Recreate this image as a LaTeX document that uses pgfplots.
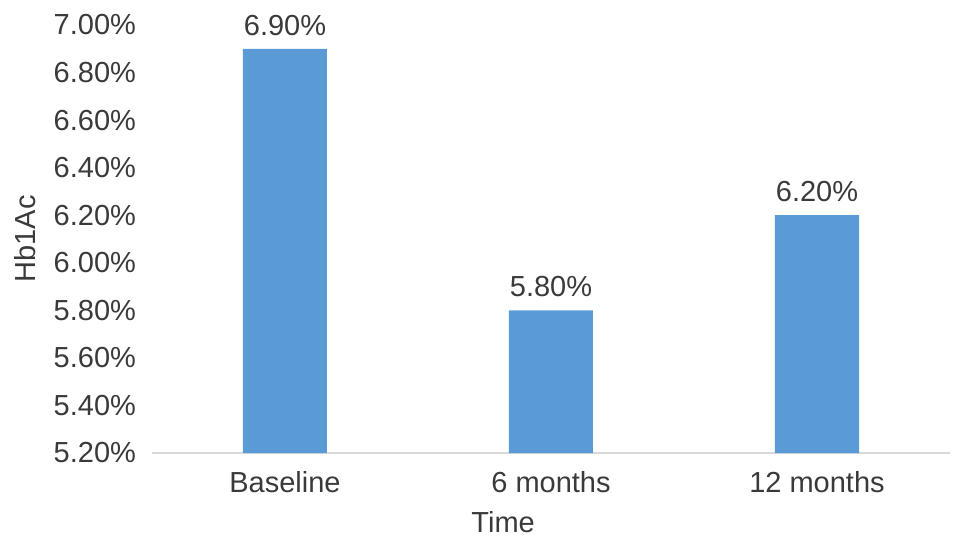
\documentclass[border=0pt]{standalone}
\usepackage{pgfplots}
\pgfplotsset{compat=1.18}
\usepackage{fontspec}
\setmainfont{Liberation Sans}
\definecolor{barblue}{HTML}{5B9BD5}
\definecolor{txt}{HTML}{3A3A3A}
\definecolor{axgray}{HTML}{D9D9D9}
\begin{document}
\fontsize{14.5}{17}\selectfont
\begin{tikzpicture}
\path[use as bounding box] (-76pt,-47pt) rectangle (408.5pt,226.5pt);
\begin{axis}[
  at={(0,0)}, anchor=south west,
  scale only axis,
  width=399pt, height=214pt,
  ymin=5.2, ymax=7.0,
  ytick={5.2,5.4,5.6,5.8,6.0,6.2,6.4,6.6,6.8,7.0},
  xmin=-0.5, xmax=2.5,
  xtick={0,1,2},
  xticklabels={Baseline,6 months,12 months},
  axis x line*=bottom,
  axis y line*=left,
  x axis line style={draw=axgray, line width=1pt, -},
  y axis line style={draw=none},
  major tick length=0pt,
  tick style={draw=none},
  ybar, bar width=42pt,
  clip=true,
  /pgf/number format/assume math mode=true,
  yticklabel={\pgfmathprintnumber[fixed,fixed zerofill,precision=2]{\tick}\%},
  yticklabel style={font=\fontsize{14.5}{17}\selectfont, text=txt, xshift=-3pt},
  xticklabel style={font=\fontsize{14.5}{17}\selectfont, text=txt, yshift=-4pt},
  nodes near coords={\pgfmathprintnumber[fixed,fixed zerofill,precision=2]{\pgfplotspointmeta}\%},
  nodes near coords style={font=\fontsize{14.5}{17}\selectfont, text=txt, yshift=1.5pt},
  xlabel={Time},
  ylabel={Hb1Ac},
  xlabel style={at={(axis description cs:0.44,-0.161)}, anchor=center, font=\fontsize{14.5}{17}\selectfont, text=txt},
  ylabel style={at={(axis description cs:-0.159,0.5)}, anchor=center, font=\fontsize{14.5}{17}\selectfont, text=txt},
]
\addplot[fill=barblue, draw=none] coordinates {(0,6.9) (1,5.8) (2,6.2)};
\end{axis}
\end{tikzpicture}
\end{document}
